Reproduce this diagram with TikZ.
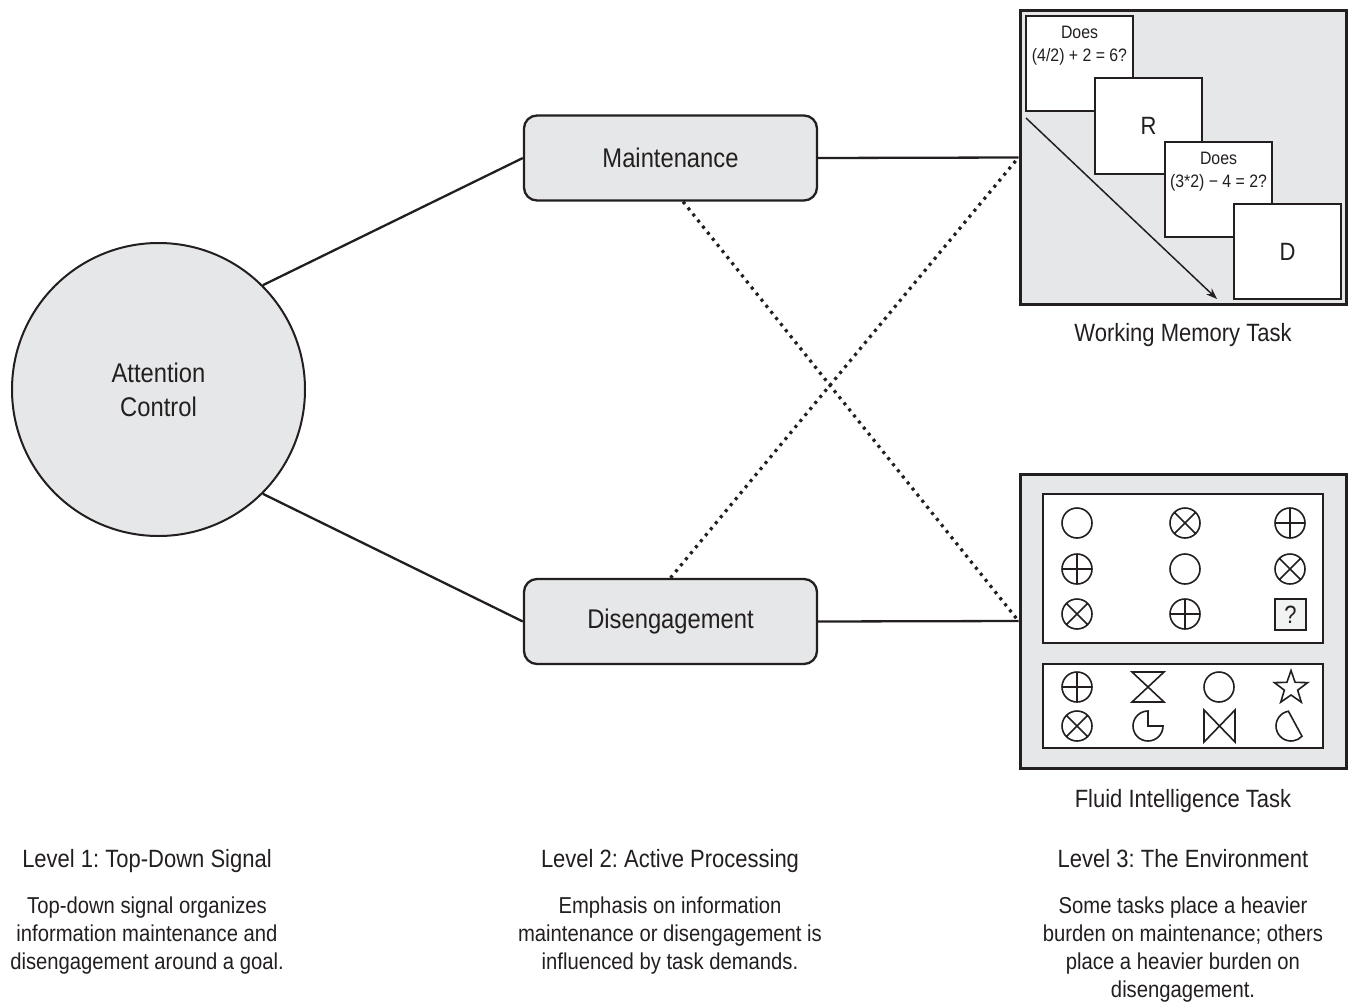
\documentclass[tikz,border=0pt]{standalone}
\usepackage{fontspec}
\setmainfont[FakeStretch=0.88]{Liberation Sans}
\usetikzlibrary{positioning,shapes.geometric,arrows.meta}
\definecolor{ink}{HTML}{231F20}
\definecolor{shade}{HTML}{E6E7E8}
\definecolor{qfill}{HTML}{F1F2F2}
\frenchspacing
\begin{document}
\begin{tikzpicture}[x=1pt,y=-1pt,
  every node/.style={text=ink},
  hub/.style={circle,draw=ink,fill=shade,line width=2pt,minimum size=293pt,inner sep=0pt,align=center,font=\fontsize{27}{34}\selectfont},
  proc/.style={draw=ink,fill=shade,line width=2.3pt,rounded corners=13pt,minimum width=293pt,minimum height=85pt,font=\fontsize{27}{32}\selectfont},
  taskbox/.style={draw=ink,fill=shade,line width=3pt,minimum width=326pt,minimum height=294pt,inner sep=0pt},
  card/.style={draw=ink,fill=white,line width=2pt,minimum width=107pt,minimum height=95pt,inner sep=0pt,font=\fontsize{25}{28}\selectfont},
  cardtxt/.style={inner sep=0pt,align=center,font=\fontsize{18}{23}\selectfont},
  panel/.style={draw=ink,fill=white,line width=2pt,minimum width=280pt,inner sep=0pt},
  sym/.style={draw=ink,line width=1.6pt},
  link/.style={draw=ink,line width=2.3pt},
  cross/.style={draw=ink,line width=3.2pt,dash pattern=on 3pt off 4.8pt},
  lbl/.style={inner sep=0pt,anchor=base,font=\fontsize{25}{30}\selectfont},
  note/.style={inner sep=0pt,anchor=north,align=center,font=\fontsize{23}{28}\selectfont}]
  \fill[white] (0,0) rectangle (1348,1006);
  \useasboundingbox (0,0) rectangle (1348,1006);
  \pgfmathsetmacro{\rr}{15}

  \node[hub] (att) at (158.5,389.5) {Attention\\Control};
  \node[proc] (mnt) at (670.5,158) {Maintenance};
  \node[proc] (dis) at (670.5,621.5) {Disengagement};
  \node[taskbox] (wm) at (1183,157.5) {};
  \node[taskbox] (fi) at (1183,621) {};

  \draw[link] (att.45) -- (mnt.west);
  \draw[link] (att.-45) -- (dis.west);
  \draw[link] (mnt.east) -- (wm.west);
  \draw[link] (dis.east) -- (fi.west);
  \draw[cross] (mnt.-74) -- (fi.west);
  \draw[cross] (dis.north) -- (wm.west);

  % working memory cards
  \node[card] (c1) at (1079.5,63.5) {};
  \node[cardtxt,below=11pt of c1.north] (q1) {Does\\(4/2) + 2 = 6?};
  \node[card] (c2) at (1148.5,126) {R};
  \node[card] (c3) at (1218.5,189) {};
  \node[cardtxt,below=11pt of c3.north] (q3) {Does\\(3*2) − 4 = 2?};
  \node[card] (c4) at (1287.5,251.5) {D};
  \coordinate (a0) at (1026,118);
  \coordinate (a1) at (1217,299);
  \draw[draw=ink,line width=1.5pt,-{Stealth[length=11pt,width=8pt]}] (a0) -- (a1);

  % fluid intelligence panels
  \node[panel,minimum height=149pt] (pt) at (1183,568.5) {};
  \node[panel,minimum height=84pt] (pb) at (1183,706) {};
  \foreach \x/\y in {1077/523,1185/569,1219/687}
    \draw[sym] (\x,\y) circle (\rr pt);
  \foreach \x/\y in {1185/523,1290/569,1077/614,1077/726}
    \draw[sym] (\x,\y) circle (\rr pt) +(45:\rr pt) -- +(225:\rr pt) +(135:\rr pt) -- +(-45:\rr pt);
  \foreach \x/\y in {1290/523,1077/569,1185/614,1077/687}
    \draw[sym] (\x,\y) circle (\rr pt) +(0:\rr pt) -- +(180:\rr pt) +(90:\rr pt) -- +(270:\rr pt);
  \node[draw=ink,fill=qfill,line width=1.6pt,minimum size=31pt,inner sep=0pt,font=\fontsize{25}{28}\selectfont] (qm) at (1290.5,614.5) {?};
  \draw[sym] (1132,672) -- (1164,672) -- (1132,702) -- (1164,702) -- cycle;
  \draw[sym] (1204,710) -- (1235,742) -- (1235,710) -- (1204,742) -- cycle;
  \draw[sym] (1148,726) -- ++(90:\rr pt) arc[start angle=90,end angle=360,radius=\rr pt] -- cycle;
  \draw[sym] ([shift={(100:\rr pt)}]1291,726) arc[start angle=100,end angle=317,radius=\rr pt] -- cycle;
  \node[star,star points=5,star point ratio=2.5,draw=ink,line width=1.6pt,minimum size=35pt,inner sep=0pt] (st) at (1291,688) {};

  \node[lbl] (wmt) at (1183,341) {Working Memory Task};
  \node[lbl] (fit) at (1183,807) {Fluid Intelligence Task};
  \node[lbl] (l1) at (147,867) {Level 1: Top-Down Signal};
  \node[lbl] (l2) at (670,867) {Level 2: Active Processing};
  \node[lbl] (l3) at (1183,867) {Level 3: The Environment};
  \node[note] (n1) at (147,897) {Top-down signal organizes\\information maintenance and\\disengagement around a goal.};
  \node[note] (n2) at (670,897) {Emphasis on information\\maintenance or disengagement is\\influenced by task demands.};
  \node[note] (n3) at (1183,897) {Some tasks place a heavier\\burden on maintenance; others\\place a heavier burden on\\disengagement.};
\end{tikzpicture}
\end{document}
